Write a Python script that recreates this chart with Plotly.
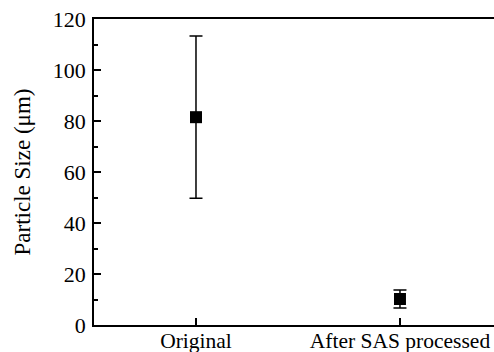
import plotly.graph_objects as go

categories = ["Original", "After SAS processed"]
mean_size = [81.5, 10.2]
err_size = [31.8, 3.5]
x_pos = [0, 1]

fig = go.Figure()
fig.add_trace(go.Scatter(
    x=x_pos, y=mean_size, mode="markers",
    marker=dict(symbol="square", size=12, color="black"),
    error_y=dict(type="data", array=err_size, visible=True, color="black", thickness=1.5, width=6.5),
    showlegend=False,
))

font = dict(family="Liberation Serif, Times New Roman, serif", color="black")
fig.update_layout(
    width=494, height=352,
    margin=dict(l=94, r=0, t=19, b=27),
    plot_bgcolor="white", paper_bgcolor="white",
    font=dict(size=22, **font),
    xaxis=dict(
        range=[-0.5, 1.461], tickvals=x_pos, ticktext=categories,
        showline=True, linecolor="black", linewidth=1.8, mirror=True,
        ticks="inside", ticklen=7, tickwidth=1.5, tickcolor="black",
        showgrid=False, zeroline=False, tickfont=dict(size=21.5),
        automargin=False, ticklabelstandoff=-5,
    ),
    yaxis=dict(
        range=[0, 120], dtick=20, tickmode="linear", tick0=0,
        showline=True, linecolor="black", linewidth=1.8,
        ticks="inside", ticklen=7, tickwidth=1.5, tickcolor="black",
        minor=dict(dtick=10, ticks="inside", ticklen=4, tickwidth=1.5, tickcolor="black", showgrid=False),
        showgrid=False, zeroline=False, tickfont=dict(size=22),
        title=dict(text="Particle Size (μm)", font=dict(size=23), standoff=16),
        automargin=False, ticklabelstandoff=2,
    ),
)
fig.write_html("out.html")
